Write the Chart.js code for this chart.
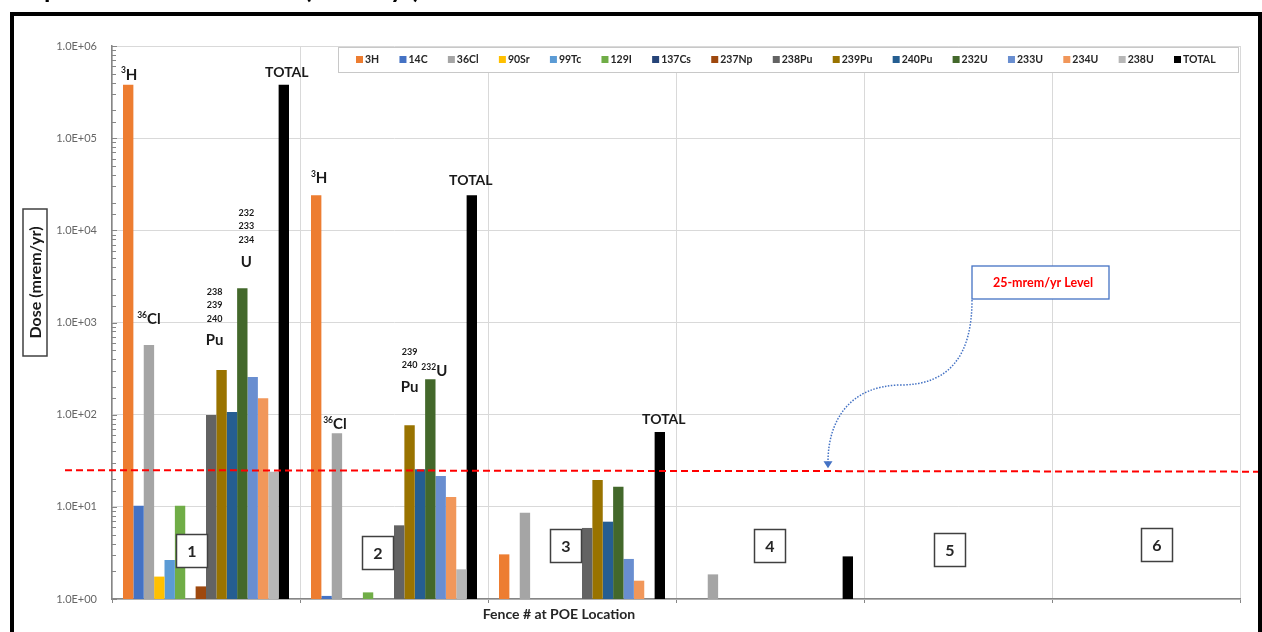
<!DOCTYPE html>
<html><head><meta charset="utf-8">
<script src="https://cdn.jsdelivr.net/npm/chart.js@4.4.1/dist/chart.umd.min.js"></script>
<style>html,body{margin:0;padding:0;background:#fff;overflow:hidden}#wrap{position:relative;width:1262px;height:632px}</style>
</head><body><div id="wrap"><canvas id="c" width="1262" height="632"></canvas></div>
<script>
// ---------------- data ----------------
const fences   = ['1', '2', '3', '4', '5', '6'];
const nuclides = ['3H','14C','36Cl','90Sr','99Tc','129I','137Cs','237Np','238Pu','239Pu','240Pu','232U','233U','234U','238U','TOTAL'];
const dose3H    = [380000, 24000, 3.05, null, null, null];
const dose14C   = [10.3, 1.08, null, null, null, null];
const dose36Cl  = [570, 63, 8.6, 1.85, null, null];
const dose90Sr  = [1.75, null, null, null, null, null];
const dose99Tc  = [2.65, null, null, null, null, null];
const dose129I  = [10.3, 1.18, null, null, null, null];
const dose137Cs = [null, null, null, null, null, null];
const dose237Np = [1.37, null, null, null, null, null];
const dose238Pu = [99, 6.3, 5.9, null, null, null];
const dose239Pu = [305, 77, 19.5, null, null, null];
const dose240Pu = [107, 25.5, 6.9, null, null, null];
const dose232U  = [2360, 243, 16.5, null, null, null];
const dose233U  = [256, 21.6, 2.72, null, null, null];
const dose234U  = [151, 12.8, 1.58, null, null, null];
const dose238U  = [24, 2.1, null, null, null, null];
const doseTOTAL = [380000, 24000, 65, 2.9, null, null];
const levelValue = 25;
const levelLabel = '25-mrem/yr Level';
const yTitle = 'Dose (mrem/yr)';
const xTitle = 'Fence # at POE Location';
const chartTitle = 'Specific and Total Dose (mrem/yr)';

const seriesValues = [dose3H, dose14C, dose36Cl, dose90Sr, dose99Tc, dose129I, dose137Cs, dose237Np,
  dose238Pu, dose239Pu, dose240Pu, dose232U, dose233U, dose234U, dose238U, doseTOTAL];
const seriesColors = ['#ED7D31','#4472C4','#A5A5A5','#FFC000','#5B9BD5','#70AD47','#264478','#9E480E',
  '#636363','#997300','#255E91','#43682B','#698ED0','#F1975A','#B7B7B7','#000000'];

// label annotations anchored to bars (offsets in px from bar top-centre)
const barNotes = [
  {ds:'3H', cat:0, kind:'iso', sup:'3', main:'H', dx:1, dy:-11},
  {ds:'TOTAL', cat:0, kind:'text', text:'TOTAL', dx:3, dy:-12},
  {ds:'36Cl', cat:0, kind:'iso', sup:'36', main:'Cl', dx:0, dy:-27},
  {ds:'239Pu', cat:0, kind:'stack', nums:['238','239','240'], main:'Pu', dx:-7, dy:-78},
  {ds:'232U', cat:0, kind:'stack', nums:['232','233','234'], main:'U', dx:4, dy:-75},
  {ds:'3H', cat:1, kind:'iso', sup:'3', main:'H', dx:3, dy:-18},
  {ds:'TOTAL', cat:1, kind:'text', text:'TOTAL', dx:-1, dy:-15},
  {ds:'36Cl', cat:1, kind:'iso', sup:'36', main:'Cl', dx:-2, dy:-10},
  {ds:'239Pu', cat:1, kind:'stack', nums:['239','240'], main:'Pu', dx:0, dy:-73},
  {ds:'232U', cat:1, kind:'iso', sup:'232', main:'U', dx:4, dy:-9},
  {ds:'TOTAL', cat:2, kind:'text', text:'TOTAL', dx:4, dy:-12}
];
// fence number boxes (offset from category centre / axis bottom)
const fenceBoxes = [
  {cat:0, dx:-14, dy:-48}, {cat:1, dx:-16, dy:-46}, {cat:2, dx:-16, dy:-53},
  {cat:3, dx:0, dy:-53}, {cat:4, dx:-8, dy:-49}, {cat:5, dx:11, dy:-54}
];

const FONT = "Lato, 'Liberation Sans', 'DejaVu Sans', sans-serif";

const datasets = nuclides.map((n, i) => ({
  label: n, data: seriesValues[i], backgroundColor: seriesColors[i],
  borderWidth: 0, categoryPercentage: 0.883, barPercentage: 1.0
}));

function isDecade(v) { const e = Math.log10(v); return Math.abs(e - Math.round(e)) < 1e-9; }

const decor = {
  id: 'decor',
  beforeDraw(chart) {
    const ctx = chart.ctx;
    ctx.save();
    ctx.fillStyle = '#fff';
    ctx.fillRect(0, 0, chart.width, chart.height);
    // cropped page title
    ctx.fillStyle = '#000';
    ctx.font = 'bold 26px ' + FONT;
    ctx.textBaseline = 'alphabetic';
    ctx.textAlign = 'left';
    ctx.fillText(chartTitle, 30, -2, 518);
    // outer frame
    ctx.strokeStyle = '#000';
    ctx.lineWidth = 4;
    ctx.strokeRect(12, 14, 1248, 700);
    ctx.restore();
  },
  afterDatasetsDraw(chart) {
    const ctx = chart.ctx, y = chart.scales.y;
    const py = y.getPixelForValue(levelValue);
    ctx.save();
    ctx.strokeStyle = '#FF0000';
    ctx.lineWidth = 2;
    ctx.setLineDash([7, 4]);
    ctx.beginPath();
    ctx.moveTo(65, py); ctx.lineTo(1258, py + 1.5);
    ctx.stroke();
    ctx.restore();
  },
  afterDraw(chart) {
    const ctx = chart.ctx, xs = chart.scales.x, ys = chart.scales.y, a = chart.chartArea;
    ctx.save();
    // inside tick marks on y axis
    ctx.strokeStyle = '#868686';
    ctx.lineWidth = 1;
    ys.ticks.forEach(t => {
      const p = Math.round(ys.getPixelForValue(t.value)) + 0.5;
      const len = isDecade(t.value) ? 5 : 4;
      ctx.beginPath(); ctx.moveTo(a.left, p); ctx.lineTo(a.left + len, p); ctx.stroke();
    });

    // legend box
    const lx0 = 338, lx1 = 1238, ly0 = 47, ly1 = 72, cy = 59.5;
    ctx.fillStyle = '#fff';
    ctx.fillRect(lx0, ly0, lx1 - lx0, ly1 - ly0);
    ctx.strokeStyle = '#C8C8C8';
    ctx.lineWidth = 1;
    ctx.strokeRect(lx0 + 0.5, ly0 + 0.5, lx1 - lx0, ly1 - ly0);
    ctx.font = 'bold 10.5px ' + FONT;
    ctx.textBaseline = 'middle';
    ctx.textAlign = 'left';
    const items = chart.data.datasets;
    const widths = items.map(d => ctx.measureText(d.label).width);
    let used = 0;
    for (let i = 0; i < items.length - 1; i++) used += 9 + widths[i];
    const gap = (1174 - 356 - used) / (items.length - 1);
    let x = 356;
    items.forEach((d, i) => {
      ctx.fillStyle = d.backgroundColor;
      ctx.fillRect(x, cy - 3.5, 7, 7);
      ctx.fillStyle = '#262626';
      ctx.fillText(d.label, x + 9, cy + 0.5);
      x += 9 + widths[i] + gap;
    });

    // bar notes
    const dsIndex = l => items.findIndex(d => d.label === l);
    ctx.fillStyle = '#1a1a1a';
    barNotes.forEach(n => {
      const el = chart.getDatasetMeta(dsIndex(n.ds)).data[n.cat];
      const bx = el.x + n.dx, by = el.y + n.dy;
      ctx.textBaseline = 'middle';
      if (n.kind === 'text') {
        ctx.font = 'bold 14px ' + FONT;
        ctx.textAlign = 'center';
        ctx.fillText(n.text, bx, by);
      } else if (n.kind === 'iso') {
        ctx.font = 'bold 8.5px ' + FONT;
        const ws = ctx.measureText(n.sup).width;
        ctx.font = 'bold 15px ' + FONT;
        const wm = ctx.measureText(n.main).width;
        const x0 = bx - (ws + wm) / 2;
        ctx.textAlign = 'left';
        ctx.fillText(n.main, x0 + ws, by + 1);
        ctx.font = 'bold 8.5px ' + FONT;
        ctx.fillText(n.sup, x0, by - 3);
      } else if (n.kind === 'stack') {
        ctx.textAlign = 'center';
        ctx.font = 'bold 9px ' + FONT;
        n.nums.forEach((s, k) => ctx.fillText(s, bx, by + k * 13.3));
        ctx.font = 'bold 15px ' + FONT;
        ctx.fillText(n.main, bx, by + (n.nums.length - 1) * 13.3 + 22);
      }
    });

    // fence number boxes
    fenceBoxes.forEach(b => {
      const cx = xs.getPixelForValue(b.cat) + b.dx, cyb = a.bottom + b.dy;
      ctx.fillStyle = '#fff';
      ctx.fillRect(cx - 15.5, cyb - 16.5, 31, 33);
      ctx.strokeStyle = '#404040';
      ctx.lineWidth = 1.5;
      ctx.strokeRect(cx - 15.5, cyb - 16.5, 31, 33);
      ctx.fillStyle = '#262626';
      ctx.font = 'bold 16px ' + FONT;
      ctx.textAlign = 'center';
      ctx.textBaseline = 'middle';
      ctx.fillText(chart.data.labels[b.cat], cx, cyb + 1);
    });

    // y title box
    ctx.strokeStyle = '#404040';
    ctx.lineWidth = 1.5;
    ctx.strokeRect(23, 209, 24, 147);
    ctx.save();
    ctx.translate(36, 282.5);
    ctx.rotate(-Math.PI / 2);
    ctx.fillStyle = '#1a1a1a';
    ctx.font = 'bold 16px ' + FONT;
    ctx.textAlign = 'center';
    ctx.textBaseline = 'middle';
    ctx.fillText(yTitle, 0, 0);
    ctx.restore();

    // x title
    ctx.fillStyle = '#262626';
    ctx.font = 'bold 14px ' + FONT;
    ctx.textAlign = 'center';
    ctx.textBaseline = 'middle';
    ctx.fillText(xTitle, 559, 614);

    // level callout
    const py = ys.getPixelForValue(levelValue);
    ctx.strokeStyle = '#4472C4';
    ctx.lineWidth = 1.5;
    ctx.setLineDash([1.5, 1.5]);
    ctx.beginPath();
    ctx.moveTo(972, 300);
    ctx.bezierCurveTo(972, 355, 950, 385, 900, 385);
    ctx.bezierCurveTo(850, 386, 828, 420, 828, py - 8);
    ctx.stroke();
    ctx.setLineDash([]);
    ctx.fillStyle = '#4472C4';
    ctx.beginPath();
    ctx.moveTo(823.5, py - 9); ctx.lineTo(832.5, py - 9); ctx.lineTo(828, py - 2);
    ctx.closePath(); ctx.fill();
    ctx.fillStyle = '#fff';
    ctx.fillRect(972, 266, 137, 33);
    ctx.strokeStyle = '#4472C4';
    ctx.lineWidth = 1.3;
    ctx.strokeRect(972, 266, 137, 33);
    ctx.fillStyle = '#FF0000';
    ctx.font = 'bold 12.5px ' + FONT;
    ctx.textAlign = 'center';
    ctx.fillText(levelLabel, 1043, 283);
    ctx.restore();
  }
};

new Chart(document.getElementById('c'), {
  type: 'bar',
  data: { labels: fences, datasets },
  options: {
    responsive: false, animation: false, devicePixelRatio: 1,
    layout: { padding: { left: 0, right: 22, top: 46, bottom: 0 } },
    plugins: { legend: { display: false }, tooltip: { enabled: false }, title: { display: false } },
    scales: {
      x: {
        type: 'category',
        grid: { display: true, offset: true, color: '#D9D9D9', lineWidth: 1, drawTicks: true, tickLength: 4, tickColor: '#868686' },
        border: { display: true, color: '#868686', width: 1.5 },
        ticks: { display: false },
        afterFit(s) { s.height = 33; }
      },
      y: {
        type: 'logarithmic', min: 1, max: 1e6,
        grid: {
          drawTicks: false,
          color: c => (c.tick && isDecade(c.tick.value)) ? '#D9D9D9' : 'rgba(0,0,0,0)',
          lineWidth: 1
        },
        border: { display: true, color: '#868686', width: 1.5 },
        ticks: {
          autoSkip: false, padding: 15, color: '#666666',
          font: { family: FONT, size: 11 },
          callback: v => {
            if (!isDecade(v)) return '';
            const e = Math.round(Math.log10(v));
            return '1.0E+' + String(e).padStart(2, '0');
          }
        },
        afterFit(s) { s.width = 112; }
      }
    }
  },
  plugins: [decor]
});
</script></body></html>
